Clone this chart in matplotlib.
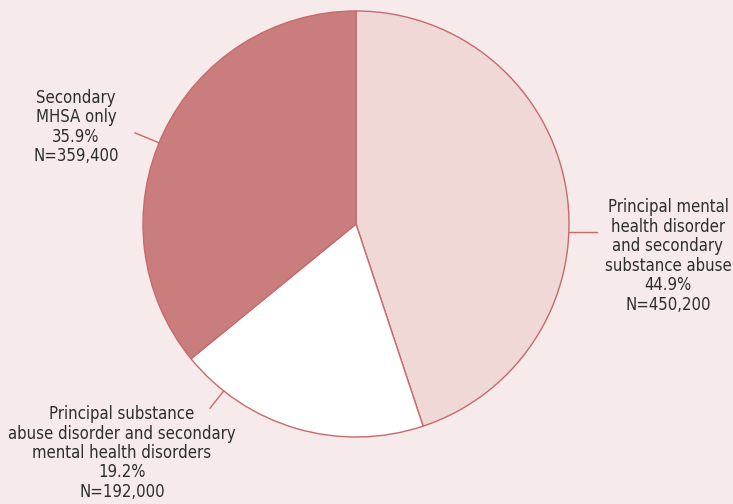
import numpy as np
import matplotlib
matplotlib.use('Agg')
import matplotlib.pyplot as plt

# slice data, clockwise from 12 o'clock
labels = [
    'Principal mental\nhealth disorder\nand secondary\nsubstance abuse',
    'Principal substance\nabuse disorder and secondary\nmental health disorders',
    'Secondary\nMHSA only',
]
shares = [44.9, 19.2, 35.9]
counts = [450200, 192000, 359400]
colors = ['#efd8d6', '#ffffff', '#c97d7d']

BG = '#f6eaea'
EDGE = '#c9696c'

fig = plt.figure(figsize=(7.33, 5.04), dpi=100, facecolor=BG)
ax = fig.add_axes([0, 0, 1, 1])
ax.set_facecolor(BG)

cx, cy, r = 356, 504 - 224, 213
ax.pie(shares, colors=colors, startangle=90, counterclock=False,
       center=(cx, cy), radius=r, frame=True,
       wedgeprops=dict(edgecolor=EDGE, linewidth=1.0))
ax.set_xlim(0, 733)
ax.set_ylim(0, 504)
ax.set_aspect('equal')
ax.axis('off')

# (leader angle on circle, leader length, text position)
placements = [
    (-2.2, 28, (668, 248)),
    (-128.4, 22, (122, 51)),
    (157.6, 26, (76, 377)),
]

for lab, pct, n, (ang, ln, txy) in zip(labels, shares, counts, placements):
    a = np.deg2rad(ang)
    x0, y0 = cx + r * np.cos(a), cy + r * np.sin(a)
    x1, y1 = cx + (r + ln) * np.cos(a), cy + (r + ln) * np.sin(a)
    ax.plot([x0, x1], [y0, y0 if ang == -2.2 else y1], color=EDGE, lw=1.0)
    ax.text(txy[0], txy[1], f'{lab}\n{pct}%\nN={n:,}', ha='center', va='center',
            fontsize=12, color='#2e2e2e', family='DejaVu Sans',
            fontstretch='condensed', linespacing=1.1)

fig.savefig('out.png', dpi=100, facecolor=BG)
